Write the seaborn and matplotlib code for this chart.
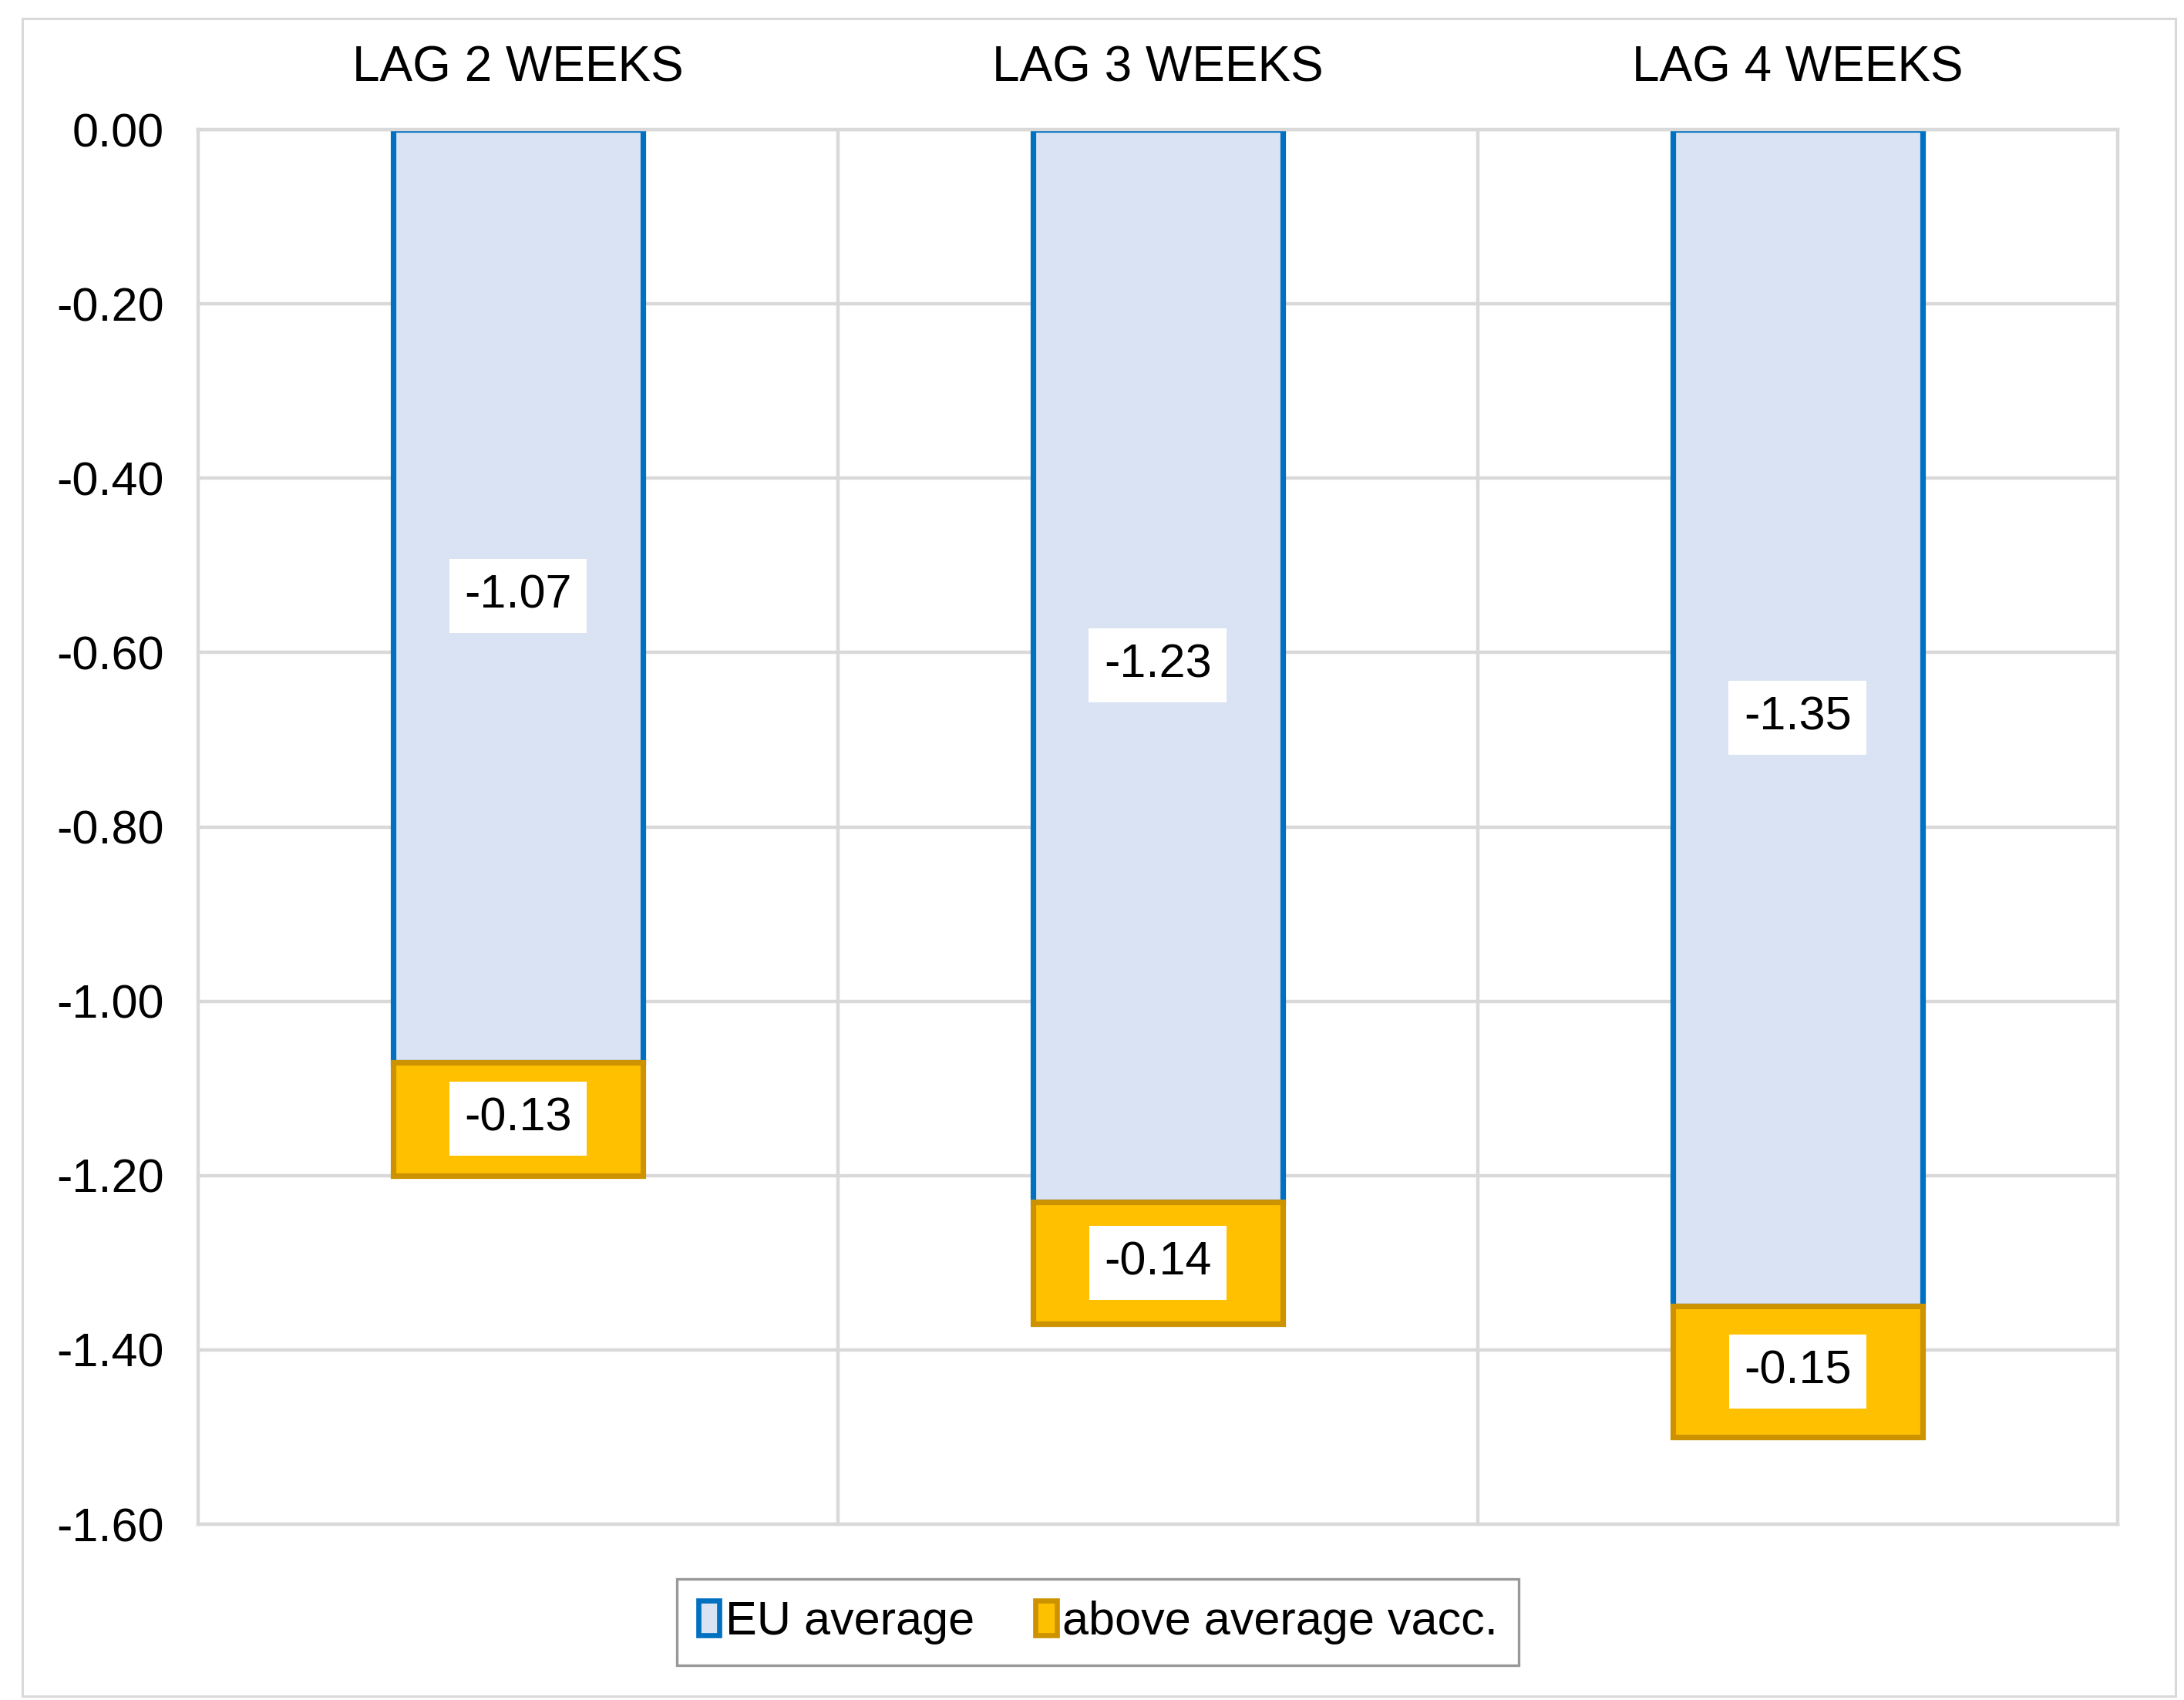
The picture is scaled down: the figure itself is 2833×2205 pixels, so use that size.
import numpy as np
import pandas as pd
import seaborn as sns
import matplotlib
matplotlib.use("Agg")
import matplotlib.pyplot as plt
from matplotlib.patches import Patch, Rectangle
from matplotlib.ticker import FormatStrFormatter, FixedLocator

lags = ["LAG 2 WEEKS", "LAG 3 WEEKS", "LAG 4 WEEKS"]
eu_average = [-1.07, -1.23, -1.35]
above_avg = [-0.13, -0.14, -0.15]
y_ticks = [0.0, -0.2, -0.4, -0.6, -0.8, -1.0, -1.2, -1.4, -1.6]
series_names = ["EU average", "above average vacc."]

df = pd.DataFrame({"lag": lags, "eu": eu_average, "above": above_avg})

sns.set_style("white")
plt.rcParams["font.family"] = ["Liberation Sans", "DejaVu Sans"]
plt.rcParams["text.color"] = "black"
plt.rcParams["xtick.color"] = "black"
plt.rcParams["ytick.color"] = "black"

blue_fill, blue_edge = "#DAE3F3", "#0070C0"
gold_fill, gold_edge = "#FFC000", "#CC9200"
grid_col = "#D9D9D9"

fig = plt.figure(figsize=(14.165, 11.025), dpi=200)
ax = fig.add_axes([0.0907, 0.1034, 0.8789, 0.8204])

sns.barplot(data=df, x="lag", y="eu", color=blue_fill, edgecolor=blue_edge,
            linewidth=2.6, width=0.39, saturation=1, ax=ax)
sns.barplot(data=df, x="lag", y="above", color=gold_fill, edgecolor=gold_edge,
            linewidth=2.6, width=0.39, saturation=1, ax=ax)

# stack the second series under the first
for patch, base in zip(ax.containers[1], df["eu"]):
    patch.set_y(base)

ax.set_ylim(-1.6, 0)
ax.set_xlim(-0.5, 2.5)
ax.set_yticks(y_ticks)
ax.yaxis.set_major_formatter(FormatStrFormatter("%.2f"))
ax.xaxis.set_minor_locator(FixedLocator([0.5, 1.5]))
ax.set_axisbelow(True)
ax.grid(axis="y", which="major", color=grid_col, linewidth=1.6)
ax.grid(axis="x", which="minor", color=grid_col, linewidth=1.6)
ax.grid(axis="x", which="major", visible=False)

ax.xaxis.tick_top()
ax.tick_params(axis="x", which="both", length=0, pad=18, labelsize=23)
ax.tick_params(axis="y", length=0, pad=16, labelsize=22)
ax.set_xlabel("")
ax.set_ylabel("")
for side in ["top", "bottom", "left", "right"]:
    ax.spines[side].set_color(grid_col)
    ax.spines[side].set_linewidth(1.6)
    ax.spines[side].set_visible(True)

# value labels
box = dict(boxstyle="square,pad=0.32", facecolor="white", edgecolor="none")
for i, (e, a) in enumerate(zip(df["eu"], df["above"])):
    ax.text(i, e / 2, f"{e:.2f}", ha="center", va="center", fontsize=22, bbox=box)
    ax.text(i, e + a / 2, f"{a:.2f}", ha="center", va="center", fontsize=22, bbox=box)

handles = [Patch(facecolor=blue_fill, edgecolor=blue_edge, linewidth=2.4),
           Patch(facecolor=gold_fill, edgecolor=gold_edge, linewidth=2.4)]
leg = fig.legend(handles, series_names, loc="center", bbox_to_anchor=(0.5028, 0.0458),
                 ncol=2, fontsize=22, frameon=True, fancybox=False, borderpad=0.45,
                 handlelength=0.45, handleheight=0.75, handletextpad=0.12,
                 columnspacing=1.3, borderaxespad=0)
leg.get_frame().set_edgecolor("#7F7F7F")
leg.get_frame().set_linewidth(1.2)

fig.patches.append(Rectangle((0.0102, 0.0023), 0.9859, 0.9867, transform=fig.transFigure,
                             fill=False, edgecolor=grid_col, linewidth=1.1))

fig.savefig("out.png", dpi=200)
